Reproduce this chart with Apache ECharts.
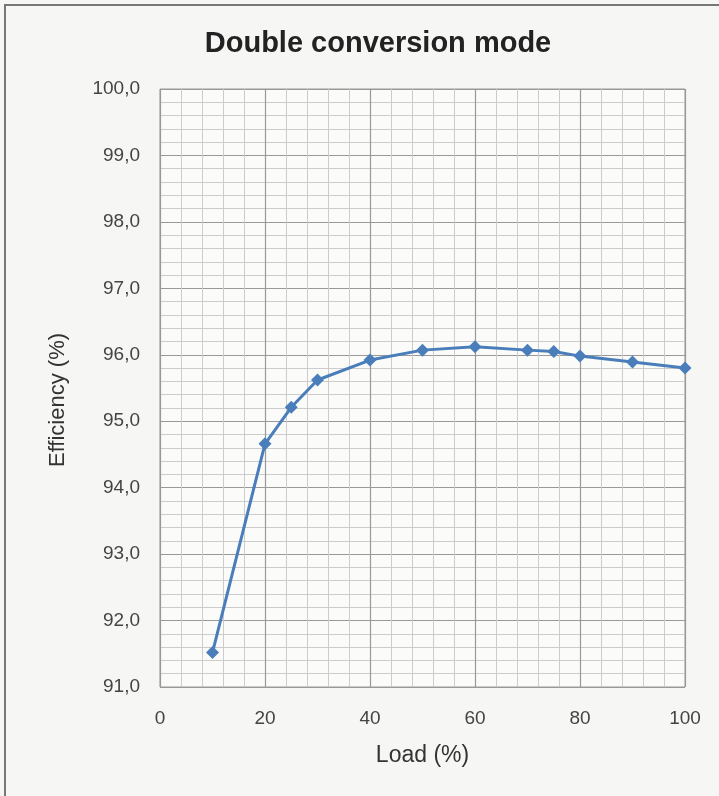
<!DOCTYPE html>
<html><head><meta charset="utf-8">
<script src="https://cdn.jsdelivr.net/npm/echarts@6/dist/echarts.min.js"></script>
<style>
html,body{margin:0;padding:0;background:#f4f4f2;}
#c{position:absolute;left:0;top:0;width:719px;height:796px;}
</style></head>
<body><div id="c"></div>
<script>
const loads = [10, 20, 25, 30, 40, 50, 60, 70, 75, 80, 90, 100];
const efficiency = [91.52, 94.66, 95.21, 95.62, 95.92, 96.07, 96.12, 96.07, 96.05, 95.98, 95.89, 95.80];
const titleText = 'Double conversion mode';
const xName = 'Load (%)';
const yName = 'Efficiency (%)';

const chart = echarts.init(document.getElementById('c'));
chart.setOption({
  backgroundColor: '#f6f6f4',
  animation: false,
  title: {
    text: titleText, left: 373, top: 24, textAlign: 'center',
    textStyle: {fontFamily: 'Liberation Sans', fontSize: 29, fontWeight: 'bold', color: '#222'}
  },
  graphic: [{type: 'rect', shape: {x: 5, y: 5, width: 740, height: 820}, style: {fill: 'none', stroke: '#777', lineWidth: 2}}],
  grid: {left: 160, right: 34, top: 89, bottom: 109, show: true, borderColor: '#999', borderWidth: 1, backgroundColor: 'rgba(255,255,255,0.5)'},
  xAxis: {
    type: 'value', min: 0, max: 100, interval: 20,
    name: xName, nameLocation: 'middle', nameGap: 57,
    nameTextStyle: {fontFamily: 'Liberation Sans', fontSize: 23, color: '#333'},
    axisLine: {show: false}, axisTick: {show: false},
    axisLabel: {fontFamily: 'Liberation Sans', fontSize: 19, color: '#444', margin: 22},
    splitLine: {lineStyle: {color: '#999', width: 1.2}},
    minorTick: {show: false, splitNumber: 5},
    minorSplitLine: {show: true, lineStyle: {color: '#ccc', width: 1}}
  },
  yAxis: {
    type: 'value', min: 91, max: 100, interval: 1,
    name: yName, nameLocation: 'middle', nameGap: 91, nameRotate: 90,
    nameTextStyle: {fontFamily: 'Liberation Sans', fontSize: 22, color: '#333', padding: [0, 24, 0, 0]},
    axisLine: {show: false}, axisTick: {show: false},
    axisLabel: {fontFamily: 'Liberation Sans', fontSize: 19, color: '#444', margin: 20,
      formatter: v => v.toFixed(1).replace('.', ',')},
    splitLine: {lineStyle: {color: '#999', width: 1.2}},
    minorTick: {show: false, splitNumber: 5},
    minorSplitLine: {show: true, lineStyle: {color: '#ccc', width: 1}}
  },
  series: [{
    type: 'line',
    data: loads.map((x, i) => [x, efficiency[i]]),
    symbol: 'diamond', symbolSize: 13,
    lineStyle: {color: '#4a7ebb', width: 3},
    itemStyle: {color: '#4a7ebb'}
  }]
});
</script></body></html>
